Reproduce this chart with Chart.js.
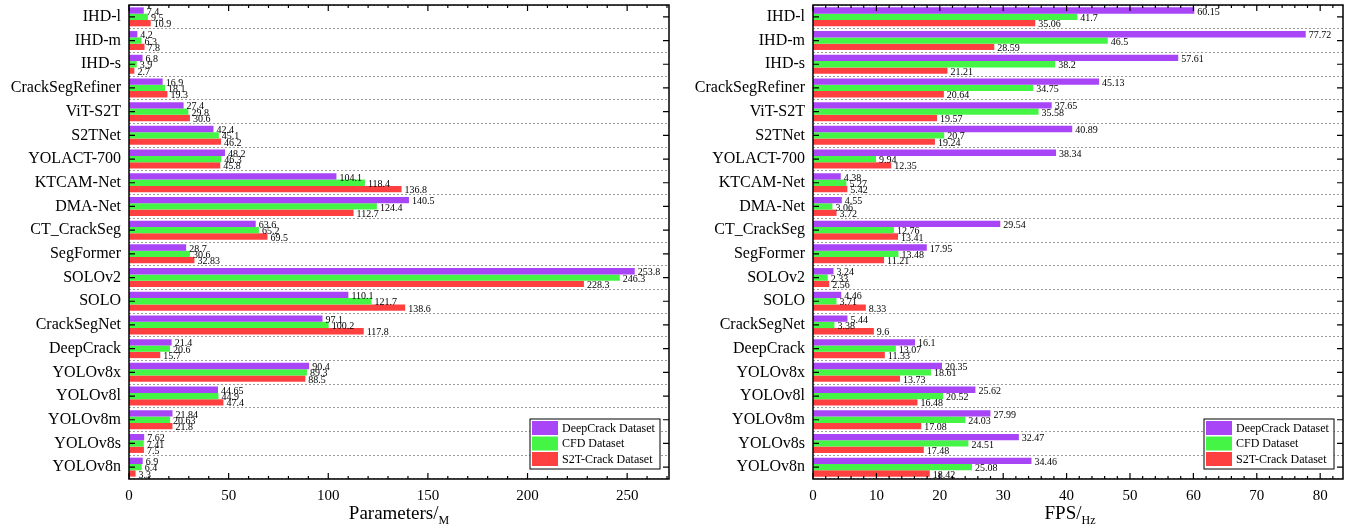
<!DOCTYPE html>
<html>
<head>
<meta charset="utf-8">
<script src="https://cdn.jsdelivr.net/npm/chart.js@4"></script>
<style>
  body { margin: 0; background: #fff; }
  #wrap { position: relative; width: 1362px; height: 529px; font-family: "Liberation Serif", serif; }
  .box { position: absolute; top: 0; height: 529px; }
  .xtitle { position: absolute; top: 502px; font-size: 19px; color: #000; transform: translateX(-50%); white-space: nowrap; }
  .xtitle sub { font-size: 12px; }
</style>
</head>
<body>
<div id="wrap">
  <div class="box" style="left:0;width:680px"><canvas id="leftChart"></canvas></div>
  <div class="box" style="left:680px;width:682px"><canvas id="rightChart"></canvas></div>
  <div class="xtitle" style="left:399px">Parameters/<sub>M</sub></div>
  <div class="xtitle" style="left:1070px">FPS/<sub>Hz</sub></div>
</div>
<script>
const models = [
  "IHD-l", "IHD-m", "IHD-s", "CrackSegRefiner", "ViT-S2T", "S2TNet", "YOLACT-700",
  "KTCAM-Net", "DMA-Net", "CT_CrackSeg", "SegFormer", "SOLOv2", "SOLO", "CrackSegNet",
  "DeepCrack", "YOLOv8x", "YOLOv8l", "YOLOv8m", "YOLOv8s", "YOLOv8n"
];
const seriesNames = ["DeepCrack Dataset", "CFD Dataset", "S2T-Crack Dataset"];

// Parameters (M)
const paramsDeepCrack = [7.4, 4.2, 6.8, 16.9, 27.4, 42.4, 48.2, 104.1, 140.5, 63.6, 28.7, 253.8, 110.1, 97.1, 21.4, 90.4, 44.65, 21.84, 7.62, 6.9];
const paramsCFD = [9.5, 6.3, 3.9, 18.1, 29.8, 45.1, 46.3, 118.4, 124.4, 65.2, 30.6, 246.3, 121.7, 100.2, 20.6, 89.3, 44.9, 20.63, 7.41, 6.4];
const paramsS2T = [10.9, 7.8, 2.7, 19.3, 30.6, 46.2, 45.8, 136.8, 112.7, 69.5, 32.83, 228.3, 138.6, 117.8, 15.7, 88.5, 47.4, 21.8, 7.5, 3.3];

// FPS (Hz)
const fpsDeepCrack = [60.15, 77.72, 57.61, 45.13, 37.65, 40.89, 38.34, 4.38, 4.55, 29.54, 17.95, 3.24, 4.46, 5.44, 16.1, 20.35, 25.62, 27.99, 32.47, 34.46];
const fpsCFD = [41.7, 46.5, 38.2, 34.75, 35.58, 20.7, 9.94, 5.27, 3.06, 12.76, 13.48, 2.33, 3.71, 3.38, 13.07, 18.61, 20.52, 24.03, 24.51, 25.08];
const fpsS2T = [35.06, 28.59, 21.21, 20.64, 19.57, 19.24, 12.35, 5.42, 3.72, 13.41, 11.21, 2.56, 8.33, 9.6, 11.33, 13.73, 16.48, 17.08, 17.48, 18.42];

const colors = ["#a845f7", "#45f545", "#ff4040"];
const serif = "Liberation Serif";

// frame, inward ticks, value labels and legend
const decorPlugin = {
  id: "decor",
  afterDatasetsDraw(chart, args, opts) {
    const ctx = chart.ctx;
    const area = chart.chartArea;
    const xs = chart.scales.x;
    const ys = chart.scales.y;

    // value labels
    ctx.save();
    ctx.font = "10px " + serif;
    ctx.fillStyle = "#000";
    ctx.textBaseline = "middle";
    ctx.textAlign = "left";
    chart.data.datasets.forEach(function (ds, di) {
      chart.getDatasetMeta(di).data.forEach(function (bar, i) {
        ctx.fillText(String(ds.data[i]), bar.x + 3, bar.y + 1.5);
      });
    });
    ctx.restore();

    // frame
    ctx.save();
    ctx.strokeStyle = "#000";
    ctx.lineWidth = 1.5;
    ctx.strokeRect(area.left, area.top, area.right - area.left, area.bottom - area.top);

    // x ticks (major + minor), bottom and top, pointing inward
    ctx.lineWidth = 1.2;
    ctx.beginPath();
    for (let v = 0; v <= xs.max + 1e-6; v += opts.minor) {
      const px = xs.getPixelForValue(v);
      const major = Math.abs(v / opts.major - Math.round(v / opts.major)) < 1e-6;
      const len = major ? 6 : 3;
      ctx.moveTo(px, area.bottom);
      ctx.lineTo(px, area.bottom - len);
      ctx.moveTo(px, area.top);
      ctx.lineTo(px, area.top + len);
    }
    // y ticks at category centres
    for (let i = 0; i < chart.data.labels.length; i++) {
      const py = ys.getPixelForValue(i);
      ctx.moveTo(area.left, py);
      ctx.lineTo(area.left + 6, py);
      ctx.moveTo(area.right, py);
      ctx.lineTo(area.right - 6, py);
    }
    ctx.stroke();

    // legend
    const lx = area.right - 139, ly = area.bottom - 60, lw = 130, lh = 50;
    ctx.fillStyle = "#fff";
    ctx.fillRect(lx, ly, lw, lh);
    ctx.strokeStyle = "#000";
    ctx.lineWidth = 1;
    ctx.strokeRect(lx, ly, lw, lh);
    ctx.font = "12px " + serif;
    ctx.textBaseline = "middle";
    ctx.textAlign = "left";
    seriesNames.forEach(function (name, k) {
      const ry = ly + 2 + k * 15.5;
      ctx.fillStyle = colors[k];
      ctx.fillRect(lx + 2, ry, 26, 14);
      ctx.fillStyle = "#000";
      ctx.fillText(name, lx + 32, ry + 7.5);
    });
    ctx.restore();
  }
};

function makeChart(canvasId, values, xmax, major, minor, yWidth, rightPad) {
  const datasets = values.map(function (vals, k) {
    return {
      label: seriesNames[k],
      data: vals,
      backgroundColor: colors[k],
      borderWidth: 0,
      categoryPercentage: 0.8,
      barPercentage: 1.0
    };
  });
  return new Chart(document.getElementById(canvasId), {
    type: "bar",
    data: { labels: models, datasets: datasets },
    plugins: [decorPlugin],
    options: {
      indexAxis: "y",
      responsive: true,
      maintainAspectRatio: false,
      animation: false,
      layout: { padding: { top: 5, right: rightPad, left: 0, bottom: 0 } },
      plugins: {
        legend: { display: false },
        tooltip: { enabled: false },
        decor: { major: major, minor: minor }
      },
      scales: {
        x: {
          min: 0,
          max: xmax,
          grid: { display: false, drawTicks: false },
          border: { display: false },
          ticks: {
            stepSize: major,
            includeBounds: false,
            autoSkip: false,
            maxRotation: 0,
            color: "#000",
            padding: 8,
            font: { family: serif, size: 15 }
          },
          afterFit: function (scale) {
            scale.height = 50;
            scale.paddingLeft = 0;
            scale.paddingRight = 0;
          }
        },
        y: {
          grid: { display: true, offset: true, drawTicks: false, color: "#9a9a9a", lineWidth: 1 },
          border: { display: false, dash: [2, 2] },
          ticks: { color: "#000", padding: 8, font: { family: serif, size: 16 } },
          afterFit: function (scale) {
            scale.width = yWidth;
            scale.paddingTop = 0;
            scale.paddingBottom = 0;
          }
        }
      }
    }
  });
}

makeChart("leftChart", [paramsDeepCrack, paramsCFD, paramsS2T], 271, 50, 10, 129, 11);
makeChart("rightChart", [fpsDeepCrack, fpsCFD, fpsS2T], 83.6, 10, 2, 133, 19);
</script>
</body>
</html>
